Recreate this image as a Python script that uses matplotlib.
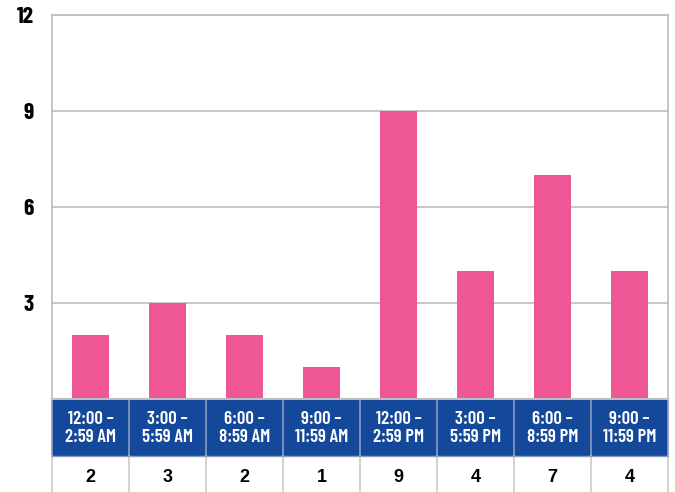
import matplotlib
matplotlib.use("Agg")
import matplotlib.pyplot as plt
from matplotlib.patches import Rectangle

# data
top_lines = ["12:00 \u2013", "3:00 \u2013", "6:00 \u2013", "9:00 \u2013",
             "12:00 \u2013", "3:00 \u2013", "6:00 \u2013", "9:00 \u2013"]
bottom_lines = ["2:59 AM", "5:59 AM", "8:59 AM", "11:59 AM",
                "2:59 PM", "5:59 PM", "8:59 PM", "11:59 PM"]
counts = [2, 3, 2, 1, 9, 4, 7, 4]
yticks = [3, 6, 9, 12]

pink = "#EE5794"
blue = "#13489A"
grid = "#BDBDBD"
cond = ["Barlow Condensed", "DejaVu Sans"]

W, H = 675, 492
fig = plt.figure(figsize=(W / 100, H / 100), dpi=100)

# main bar area
ax = fig.add_axes([52 / W, (H - 399) / H, 616 / W, 384 / H])
n = len(counts)
ax.bar([i + 0.5 for i in range(n)], counts, width=0.48, color=pink, zorder=3)
ax.set_xlim(0, n)
ax.set_ylim(0, 12)
ax.set_xticks([])
ax.set_yticks(yticks)
ax.set_yticklabels([str(v) for v in yticks], family=cond, fontweight="bold", fontsize=17)
for lab in ax.get_yticklabels():
    lab.set_verticalalignment("center_baseline")
ax.tick_params(axis="y", length=0, pad=13)
ax.grid(axis="y", color=grid, linewidth=1.2, zorder=0)
for s in ax.spines.values():
    s.set_color(grid)
    s.set_linewidth(1.2)
ax.spines["bottom"].set_visible(False)

# table below: blue label band + count row (y in pixels from figure bottom)
tb = fig.add_axes([52 / W, 0, 616 / W, (H - 399) / H])
tb.set_xlim(0, n)
tb.set_ylim(0, H - 399)
tb.axis("off")
for i in range(n):
    tb.add_patch(Rectangle((i, 36), 1, 57, facecolor=blue, edgecolor="none"))
    tb.text(i + 0.5, H - 418, top_lines[i], ha="center", va="center_baseline", color="white",
            family=cond, fontweight="semibold", fontsize=13.5)
    tb.text(i + 0.5, H - 436, bottom_lines[i], ha="center", va="center_baseline", color="white",
            family=cond, fontweight="semibold", fontsize=13.5)
    tb.text(i + 0.5, H - 476, str(counts[i]), ha="center", va="center_baseline", color="black",
            family=["Liberation Sans", "DejaVu Sans"], fontweight="bold", fontsize=13)
for i in range(n + 1):
    tb.plot([i, i], [36, 93], color="#8A9BBE", linewidth=1.2, clip_on=False)
    tb.plot([i, i], [0, 36], color="#CCCCCC", linewidth=1.2, clip_on=False)
tb.plot([0, n], [93, 93], color=grid, linewidth=1.5, clip_on=False)
tb.plot([0, n], [36, 36], color="#8A9BBE", linewidth=1, clip_on=False)

fig.savefig("out.png", dpi=100)
